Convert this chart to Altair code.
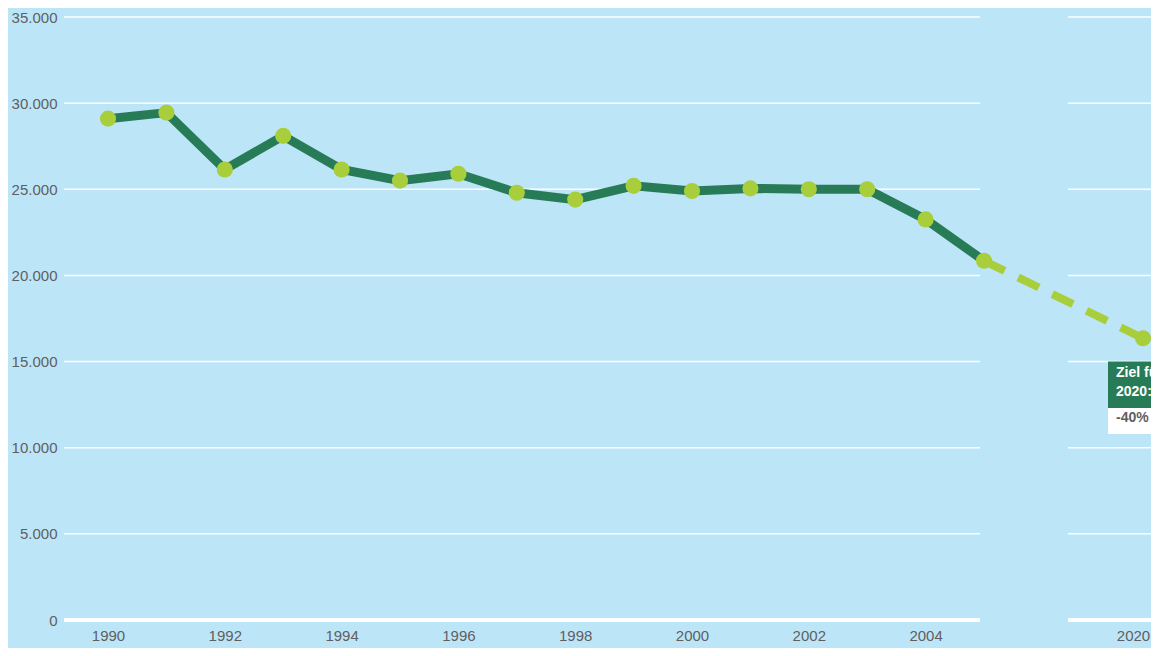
import altair as alt
import pandas as pd

# ---- data ----
years = list(range(1990, 2006))
emissions = [29100, 29450, 26150, 28100, 26150, 25500, 25900, 24800,
             24400, 25200, 24900, 25050, 25000, 25000, 23250, 20850]
target_years = [2005, 2020]
target_values = [20850, 16350]
y_ticks = [0, 5000, 10000, 15000, 20000, 25000, 30000, 35000]
x_ticks = [1990, 1992, 1994, 1996, 1998, 2000, 2002, 2004, 2020]
label_head = "Ziel für\n2020:"
label_pct = "-40%"
label_box_top = 15000
label_box_mid = 12300
label_box_bottom = 10800

# ---- style ----
W, H = 1087, 603
BG = "#BDE5F8"
DARK = "#277C57"
LIGHT = "#A8CE3C"
GREY = "#5F5F5F"
FONT = "Liberation Sans"

xscale = alt.Scale(domain=[1990, 2005, 2020], range=[44, 920, 1079])
yscale = alt.Scale(domain=[0, 35000], nice=False, zero=True)

yaxis = alt.Axis(values=y_ticks, grid=False, domain=False, ticks=False,
                 labelPadding=7, labelFontSize=15, labelColor=GREY, labelFont=FONT,
                 labelExpr="replace(format(datum.value, ','), ',', '.')", title=None)
xaxis = alt.Axis(values=x_ticks, grid=False, domain=False, ticks=False,
                 labelPadding=8, labelFontSize=15, labelColor=GREY, labelFont=FONT,
                 labelExpr="datum.value + ''", title=None, labelFlush=False,
                 labelOverlap=False,
                 labelOffset=alt.condition("datum.value == 2020", alt.value(-10), alt.value(0)))

main_df = pd.DataFrame({"year": years, "value": emissions})
target_df = pd.DataFrame({"year": target_years, "value": target_values})
point_df = pd.DataFrame({"year": years + [target_years[-1]],
                         "value": emissions + [target_values[-1]]})
grid_df = pd.DataFrame({"v": y_ticks[1:]})
base_df = pd.DataFrame({"v": y_ticks[:1]})

def Y(field):
    return alt.Y(field, type="quantitative", scale=yscale, axis=yaxis)

def X(field):
    return alt.X(field, type="quantitative", scale=xscale, axis=xaxis)

grid_left = alt.Chart(grid_df).mark_rule(color="white", strokeWidth=1.5).encode(
    y=Y("v"), x=alt.value(0), x2=alt.value(916))
grid_right = alt.Chart(grid_df).mark_rule(color="white", strokeWidth=1.5).encode(
    y=Y("v"), x=alt.value(1004), x2=alt.value(W))
base_left = alt.Chart(base_df).mark_rule(color="white", strokeWidth=4).encode(
    y=Y("v"), x=alt.value(0), x2=alt.value(916))
base_right = alt.Chart(base_df).mark_rule(color="white", strokeWidth=4).encode(
    y=Y("v"), x=alt.value(1004), x2=alt.value(W))

line = alt.Chart(main_df).mark_line(color=DARK, strokeWidth=9).encode(
    x=X("year"), y=Y("value"))
dash = alt.Chart(target_df).mark_line(color=LIGHT, strokeWidth=8,
                                      strokeDash=[23, 15]).encode(
    x=X("year"), y=Y("value"))
points = alt.Chart(point_df).mark_circle(color=LIGHT, size=260, opacity=1).encode(
    x=X("year"), y=Y("value"))

box_green = alt.Chart(base_df).mark_rect(color=DARK, xOffset=-35).encode(
    x=alt.datum(2020), x2=alt.value(W), y=alt.datum(label_box_top),
    y2=alt.datum(label_box_mid))
box_white = alt.Chart(base_df).mark_rect(color="white", xOffset=-35).encode(
    x=alt.datum(2020), x2=alt.value(W), y=alt.datum(label_box_mid),
    y2=alt.datum(label_box_bottom))
txt_head = alt.Chart(base_df).mark_text(
    align="left", baseline="top", dx=-27, dy=4, font=FONT, fontSize=14,
    fontWeight="bold", color="white", lineBreak="\n", lineHeight=19).encode(
    x=alt.datum(2020), y=alt.datum(label_box_top), text=alt.value(label_head))
txt_pct = alt.Chart(base_df).mark_text(
    align="left", baseline="top", dx=-27, dy=3, font=FONT, fontSize=14,
    fontWeight="bold", color=GREY).encode(
    x=alt.datum(2020), y=alt.datum(label_box_mid), text=alt.value(label_pct))

chart = alt.layer(
    grid_left, grid_right, base_left, base_right,
    line, dash, points, box_green, box_white, txt_head, txt_pct
).properties(
    width=W, height=H,
    autosize=alt.AutoSizeParams(type="none"),
    padding={"left": 56, "top": 9, "right": 0, "bottom": 28},
    background=BG,
).configure_view(stroke=None, fill=BG)

chart.save("out.html", embed_options={"renderer": "svg", "actions": False})
